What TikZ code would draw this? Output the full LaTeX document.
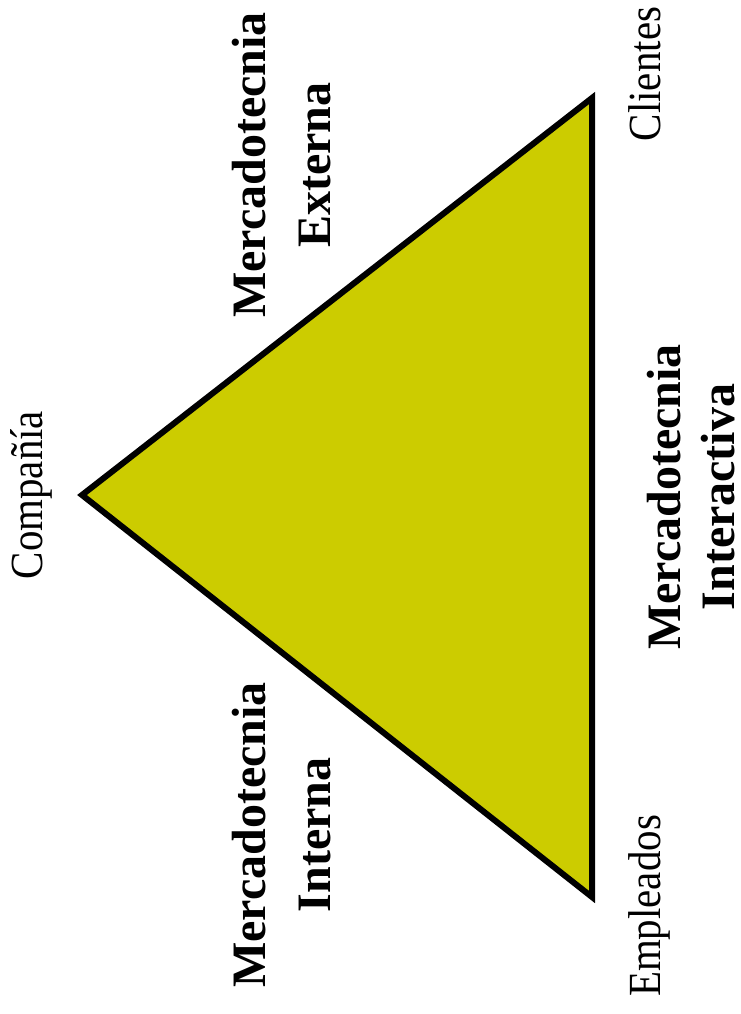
\documentclass[tikz,border=0pt]{standalone}
\usepackage{fontspec}
\setmainfont{Liberation Serif}
\newfontfamily\etiquetafont[FakeStretch=0.89]{Liberation Serif}
\definecolor{amarillo}{RGB}{204,204,0}

\begin{document}
\begin{tikzpicture}[x=1pt, y=-1pt,
  vertice/.style={rotate=90, anchor=base, inner sep=0pt, font=\etiquetafont\fontsize{46}{50}\selectfont},
  tipo/.style={rotate=90, align=center, inner sep=0pt, font=\bfseries\fontsize{48}{65}\selectfont}]

  \useasboundingbox (0,0) rectangle (740,1014);

  % ==========================================
  % TRIÁNGULO DE LA MERCADOTECNIA
  % ==========================================
  \coordinate (compania) at (82,495);
  \coordinate (clientes) at (592,98);
  \coordinate (empleados) at (592,897);
  \draw[fill=amarillo, line width=6pt, line join=miter] (compania) -- (clientes) -- (empleados) -- cycle;

  % Vértices
  \node[vertice] (lblCompania) at (42,495) {Compañía};
  \node[vertice] (lblClientes) at (660,74) {Clientes};
  \node[vertice] (lblEmpleados) at (660,906) {Empleados};

  % Lados
  \node[tipo] (externa) at (282,165) {Mercadotecnia\\Externa};
  \node[tipo] (interna) at (282,835) {Mercadotecnia\\Interna};
  \node[tipo, font=\bfseries\fontsize{48}{54}\selectfont] (interactiva) at (691,497) {Mercadotecnia\\Interactiva};

\end{tikzpicture}
\end{document}
